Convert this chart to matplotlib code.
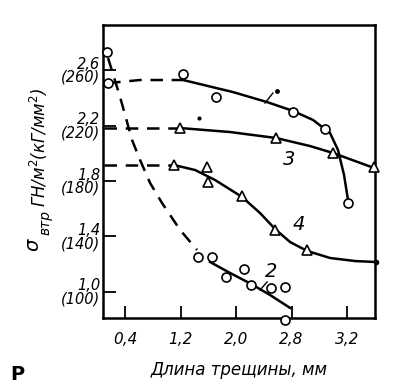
import matplotlib
matplotlib.use("Agg")
import matplotlib.pyplot as plt

FONT = ['DejaVu Sans']

# ---- data ----
# curve 1 (circles, upper)
c1_pts_x = [0.14, 0.155, 1.236, 1.71, 2.82, 3.28, 3.61]
c1_pts_y = [2.73, 2.51, 2.57, 2.405, 2.30, 2.175, 1.64]
c1_dash_x = [0.155, 0.616, 1.236]
c1_dash_y = [2.506, 2.528, 2.528]
c1_line_x = [1.236, 1.956, 2.446, 2.821, 3.109, 3.354, 3.469, 3.556, 3.613]
c1_line_y = [2.528, 2.441, 2.369, 2.305, 2.240, 2.146, 2.023, 1.843, 1.663]

# curve 2 (circles, steep)
c2_pts_x = [1.45, 1.65, 1.855, 2.11, 2.22, 2.50, 2.70, 2.70]
c2_pts_y = [1.25, 1.25, 1.108, 1.166, 1.05, 1.03, 1.036, 0.80]
c2_dash_x = [0.155, 0.328, 0.501, 0.616, 0.760, 0.933, 1.193, 1.437]
c2_dash_y = [2.686, 2.405, 2.095, 1.951, 1.786, 1.641, 1.447, 1.303]
c2_line_x = [1.625, 1.913, 2.216, 2.49, 2.778]
c2_line_y = [1.216, 1.137, 1.058, 0.978, 0.885]

# curve 3 (triangles, middle)
c3_pts_x = [1.19, 2.58, 3.40, 3.99]
c3_pts_y = [2.18, 2.11, 2.00, 1.90]
c3_dash_x = [0.097, 1.19]
c3_dash_y = [2.182, 2.182]
c3_line_x = [1.19, 1.913, 2.576, 3.066, 3.397, 3.988]
c3_line_y = [2.182, 2.153, 2.110, 2.052, 2.002, 1.894]

# curve 4 (triangles, lower)
c4_pts_x = [1.11, 1.58, 1.60, 2.09, 2.56, 3.02]
c4_pts_y = [1.915, 1.90, 1.79, 1.69, 1.447, 1.30]
c4_dash_x = [0.097, 1.106]
c4_dash_y = [1.915, 1.915]
c4_line_x = [1.106, 1.41, 1.697, 2.086, 2.345, 2.562, 2.778, 3.023, 3.354, 3.714, 4.017]
c4_line_y = [1.915, 1.879, 1.807, 1.685, 1.569, 1.454, 1.360, 1.296, 1.245, 1.223, 1.216]

x_ticks = [0.4, 1.2, 2.0, 2.8, 3.6]
x_tick_labels = ['0,4', '1,2', '2,0', '2,8', '3,2']
y_ticks = [1.0, 1.4, 1.8, 2.2, 2.6]
y_tick_labels = ['1,0\n(100)', '1,4\n(140)', '1,8\n(180)', '2,2\n(220)', '2,6\n(260)']

fig = plt.figure(figsize=(3.95, 3.92), dpi=100)
ax = fig.add_axes([0.261, 0.189, 0.688, 0.747])
ax.set_xlim(0.083, 4.0)
ax.set_ylim(0.813, 2.924)

lw = 1.8
dash = (0, (5, 3.5))
for dx, dy in [(c1_dash_x, c1_dash_y), (c2_dash_x, c2_dash_y),
               (c3_dash_x, c3_dash_y), (c4_dash_x, c4_dash_y)]:
    ax.plot(dx, dy, color='black', lw=lw, linestyle=dash, clip_on=False)
for lx, ly in [(c1_line_x, c1_line_y), (c2_line_x, c2_line_y),
               (c3_line_x, c3_line_y), (c4_line_x, c4_line_y)]:
    ax.plot(lx, ly, color='black', lw=lw, clip_on=False)

mk = dict(linestyle='none', markerfacecolor='white', markeredgecolor='black',
          markeredgewidth=1.2, clip_on=False, zorder=5)
ax.plot(c1_pts_x, c1_pts_y, marker='o', markersize=6.5, **mk)
ax.plot(c2_pts_x, c2_pts_y, marker='o', markersize=6.5, **mk)
ax.plot(c3_pts_x, c3_pts_y, marker='^', markersize=7, **mk)
ax.plot(c4_pts_x, c4_pts_y, marker='^', markersize=7, **mk)
ax.plot([4.017], [1.216], marker='o', markersize=3, color='black', clip_on=False)
ax.plot([1.466], [2.254], marker='o', markersize=2, color='black')

# curve labels
ax.plot([2.417, 2.53], [2.362, 2.434], color='black', lw=1.0)
ax.plot([2.59], [2.449], marker='o', markersize=2.5, color='black')
ax.text(2.68, 1.915, '3', fontsize=14, style='italic', family=FONT)
ax.text(2.82, 1.447, '4', fontsize=14, style='italic', family=FONT)
ax.text(2.42, 1.108, '2', fontsize=14, style='italic', family=FONT)
ax.plot([2.345, 2.446], [1.014, 1.072], color='black', lw=1.0)

for s in ax.spines.values():
    s.set_linewidth(1.8)

ax.set_xticks(x_ticks)
ax.set_xticklabels(x_tick_labels, fontsize=11, style='italic', family=FONT)
ax.set_yticks(y_ticks)
ax.set_yticklabels(y_tick_labels, fontsize=10.5, style='italic', family=FONT,
                   linespacing=0.85)
ax.tick_params(direction='in', length=9, width=1.3)
ax.tick_params(axis='x', pad=10)
ax.tick_params(axis='y', pad=2)

ax.set_xlabel('Длина трещины, мм', fontsize=12, style='italic', family=FONT,
              labelpad=10)
fig.text(0.084, 0.375, 'σ', fontsize=14, style='italic', family=FONT,
         rotation=90, ha='center', va='center')
fig.text(0.114, 0.432, 'втр', fontsize=10, style='italic', family=FONT,
         rotation=90, ha='center', va='center')
fig.text(0.099, 0.625, 'ГН/м$^2$(кГ/мм$^2$)', fontsize=12, style='italic',
         family=FONT, rotation=90, ha='center', va='center')
fig.text(0.025, 0.03, 'Р', fontsize=14, fontweight='bold', family=FONT)

fig.savefig('out.png', dpi=100)
